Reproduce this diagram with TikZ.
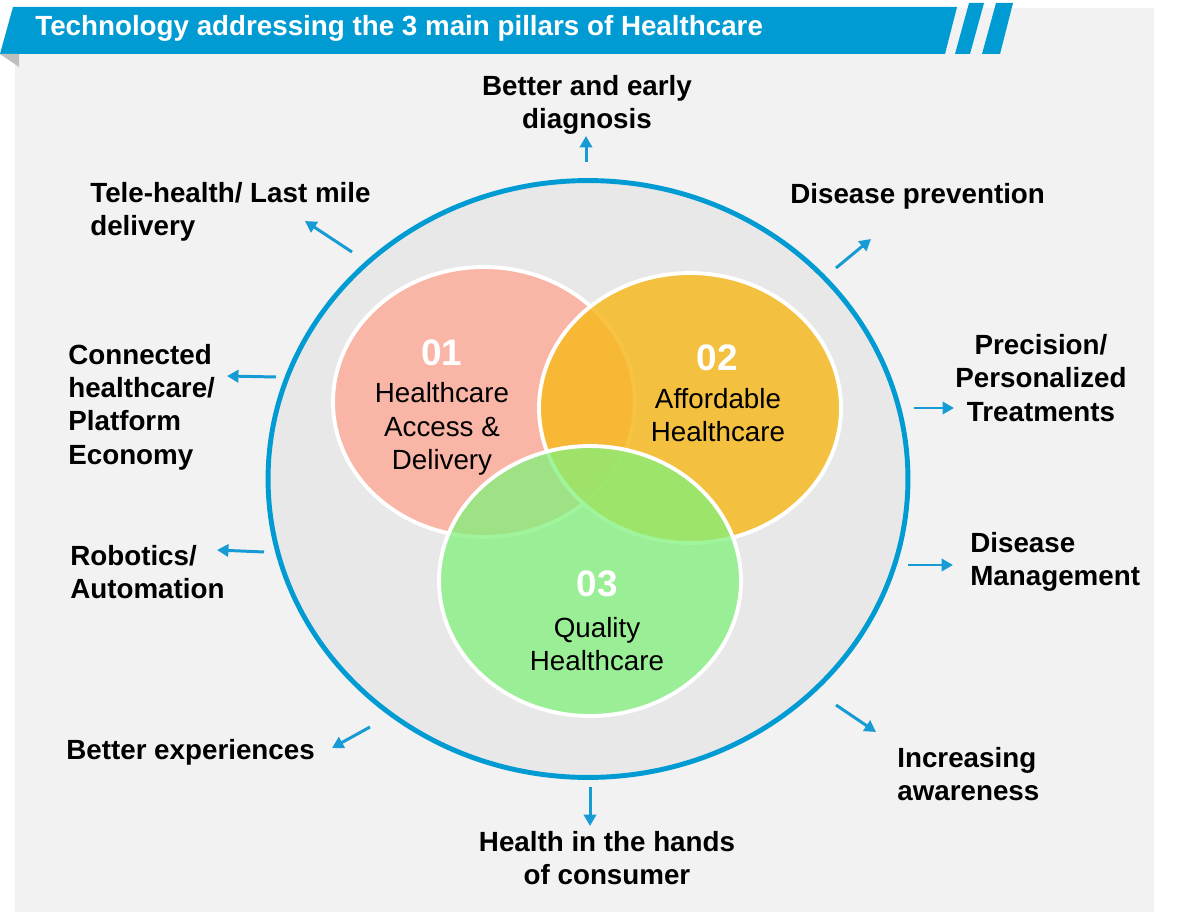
\documentclass[tikz,border=0pt]{standalone}
\usepackage{fontspec}
\setmainfont{Liberation Sans}
\usetikzlibrary{shapes.geometric,arrows.meta}

\definecolor{hdrblue}{RGB}{0,155,210}
\definecolor{arrowblue}{RGB}{22,155,212}
\definecolor{panelgrey}{RGB}{242,242,242}
\definecolor{hubgrey}{RGB}{232,232,232}
\definecolor{foldgrey}{RGB}{191,191,191}
\definecolor{accessred}{RGB}{255,164,143}
\definecolor{affordorange}{RGB}{247,185,34}
\definecolor{qualitygreen}{RGB}{129,241,123}

\begin{document}
\begin{tikzpicture}[
    x=0.02cm, y=-0.02cm,
    lbl/.style={font=\bfseries\fontsize{15.8}{19}\selectfont, inner sep=0pt, align=left, anchor=west},
    lblc/.style={lbl, align=center, anchor=center},
    venn/.style={ellipse, draw=white, line width=2.2pt, minimum width=6.04cm, minimum height=5.4cm, inner sep=0pt},
    num/.style={font=\bfseries\fontsize{21}{24}\selectfont, text=white, inner sep=0pt},
    pillar/.style={font=\fontsize{15.8}{19}\selectfont, align=center, inner sep=0pt},
    arr/.style={-{Triangle[length=6.5pt,width=7pt]}, line width=1.7pt, arrowblue},
]
    \useasboundingbox (0,0) rectangle (1200,912);

    % Background panel
    \fill[panelgrey] (15,8) rectangle (1154,912);

    % Header bar
    \fill[hdrblue] (13,7) -- (957,7) -- (945,54) -- (0,54) -- cycle;
    \fill[hdrblue] (969,3) -- (984,3) -- (970,54) -- (955,54) -- cycle;
    \fill[hdrblue] (996,3) -- (1013,3) -- (1000,54) -- (982,54) -- cycle;
    \fill[foldgrey] (0,54) -- (19,54) -- (19,67) -- cycle;
    \node[font=\bfseries\fontsize{15.8}{19}\selectfont, text=white, anchor=west, inner sep=0pt] (title) at (35,28) {Technology addressing the 3 main pillars of Healthcare};

    % Outer circle
    \node[ellipse, draw=hdrblue, fill=hubgrey, line width=2.8pt, minimum width=12.8cm, minimum height=11.94cm] (hub) at (588,479) {};

    % Pillars
    \node[venn, fill=accessred, fill opacity=0.75] (access) at (484,402) {};
    \node[venn, fill=affordorange, fill opacity=0.85] (afford) at (690,408) {};
    \node[venn, fill=qualitygreen, fill opacity=0.75] (quality) at (590,581) {};

    \node[num] (num1) at (442,353) {01};
    \node[pillar] (txt1) at (442,429) {Healthcare\\Access \&\\Delivery};
    \node[num] (num2) at (717,358) {02};
    \node[pillar] (txt2) at (718,415) {Affordable\\Healthcare};
    \node[num] (num3) at (597,584) {03};
    \node[pillar] (txt3) at (597,644) {Quality\\Healthcare};

    % Outcomes
    \node[lblc] (diag) at (587,105) {Better and early\\diagnosis};
    \node[lbl] (tele) at (90,212) {Tele-health/ Last mile\\delivery};
    \node[lbl] (prev) at (790,196) {Disease prevention};
    \node[lbl] (conn) at (68,407) {Connected\\healthcare/\\Platform\\Economy};
    \node[lblc] (prec) at (1041,378) {Precision/\\Personalized\\Treatments};
    \node[lbl] (robo) at (70,572) {Robotics/\\Automation};
    \node[lbl] (mgmt) at (970,562) {Disease\\Management};
    \node[lbl] (exp) at (66,752) {Better experiences};
    \node[lbl] (aware) at (897,774) {Increasing\\awareness};
    \node[lblc] (cons) at (607,858) {Health in the hands\\of consumer};

    % Arrow ends
    \coordinate (diag-a) at (586,162);  \coordinate (diag-b) at (586,136);
    \coordinate (tele-a) at (352,252);  \coordinate (tele-b) at (305,221);
    \coordinate (prev-a) at (836,268);  \coordinate (prev-b) at (871,239);
    \coordinate (conn-a) at (276,377);  \coordinate (conn-b) at (227,376);
    \coordinate (prec-a) at (914,408);  \coordinate (prec-b) at (954,408);
    \coordinate (robo-a) at (264,552);  \coordinate (robo-b) at (217,550);
    \coordinate (mgmt-a) at (908,565);  \coordinate (mgmt-b) at (953,565);
    \coordinate (exp-a) at (370,727);   \coordinate (exp-b) at (332,748);
    \coordinate (aware-a) at (836,705); \coordinate (aware-b) at (876,732);
    \coordinate (cons-a) at (590,787);  \coordinate (cons-b) at (590,826);

    % Arrows
    \foreach \n in {diag,tele,prev,conn,prec,robo,mgmt,exp,aware,cons}
        \draw[arr] (\n-a) -- (\n-b);
\end{tikzpicture}
\end{document}
